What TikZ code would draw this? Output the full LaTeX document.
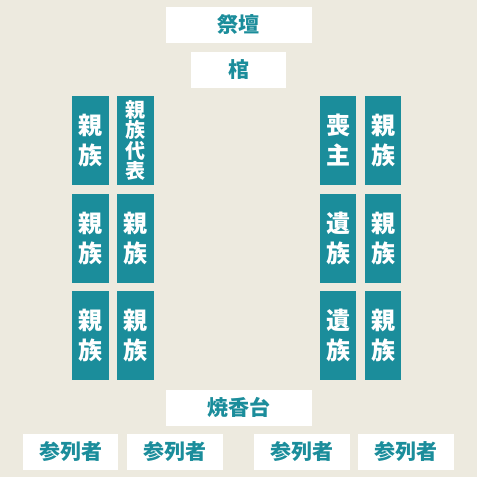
\documentclass[tikz,border=0pt]{standalone}
\usepackage{fontspec}
\newfontfamily\jpfont{Noto Sans CJK JP}
\definecolor{beige}{RGB}{237,234,223}
\definecolor{teal}{RGB}{27,141,155}

\begin{document}
\begin{tikzpicture}[x=1pt,y=-1pt,
	seat/.style={fill=teal,text=white,inner sep=0pt,minimum width=36.5pt,minimum height=89pt,align=center,font=\jpfont\bfseries\fontsize{24}{30}\selectfont},
	table/.style={fill=white,text=teal,inner sep=0pt,minimum height=36pt,font=\jpfont\bfseries\fontsize{21}{24}\selectfont}]
%		background
		\fill[beige] (0,0) rectangle (477,477);
		\node[table,minimum width=146pt] (saidan) at (238.5,24.5) {祭壇};
		\node[table,minimum width=95pt] (hitsugi) at (238.5,69.7) {棺};
		% left side
		\node[seat] (shinzokuA) at (90.7,140.5) {親\\族};
		\node[seat,font=\jpfont\bfseries\fontsize{20}{20.5}\selectfont] (daihyo) at (135.5,140.5) {親\\族\\代\\表};
		\foreach \y/\n in {238/B,335.5/C}{
			\node[seat] (shinzokuL1\n) at (90.7,\y) {親\\族};
			\node[seat] (shinzokuL2\n) at (135.5,\y) {親\\族};
		}
		% right side
		\node[seat] (moshu) at (338,140.5) {喪\\主};
		\node[seat] (shinzokuR) at (383,140.5) {親\\族};
		\foreach \y/\n in {238/B,335.5/C}{
			\node[seat] (izoku\n) at (338,\y) {遺\\族};
			\node[seat] (shinzokuR\n) at (383,\y) {親\\族};
		}
		\node[table,minimum width=146pt] (shokodai) at (238.7,407.5) {焼香台};
		\foreach \x [count=\i] in {70.5,175,302,406.3}
		\node[table,minimum width=95.7pt] (sanretsu\i) at (\x,452) {参列者};
	\end{tikzpicture}
\end{document}
